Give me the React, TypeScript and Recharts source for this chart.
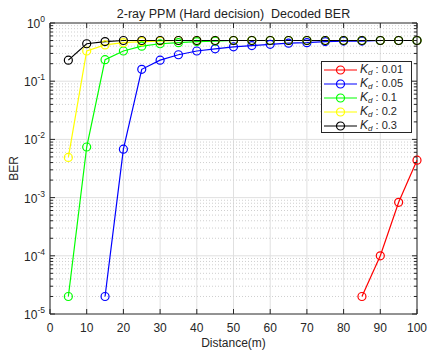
import React from 'react';
import { LineChart, Line, XAxis, YAxis, CartesianGrid, ReferenceLine, Legend } from 'recharts';

const distance = [5, 10, 15, 20, 25, 30, 35, 40, 45, 50, 55, 60, 65, 70, 75, 80, 85, 90, 95, 100];

const berKd001 = [null, null, null, null, null, null, null, null, null, null, null, null, null, null, null, null, 2e-5, 1.0e-4, 8.3e-4, 4.4e-3];
const berKd005 = [null, null, 2e-5, 0.0068, 0.16, 0.23, 0.285, 0.33, 0.36, 0.39, 0.41, 0.43, 0.45, 0.46, 0.48, 0.49, 0.49, 0.5, 0.5, 0.5];
const berKd01 = [2e-5, 0.0074, 0.234, 0.33, 0.40, 0.44, 0.46, 0.48, 0.49, 0.5, 0.5, 0.5, 0.5, 0.5, 0.5, 0.5, 0.5, 0.5, 0.5, 0.5];
const berKd02 = [0.0049, 0.33, 0.42, 0.46, 0.48, 0.49, 0.5, 0.5, 0.5, 0.5, 0.5, 0.5, 0.5, 0.5, 0.5, 0.5, 0.5, 0.5, 0.5, 0.5];
const berKd03 = [0.23, 0.44, 0.48, 0.5, 0.5, 0.5, 0.5, 0.5, 0.5, 0.5, 0.5, 0.5, 0.5, 0.5, 0.5, 0.5, 0.5, 0.5, 0.5, 0.5];

const seriesKeys = ['kd001', 'kd005', 'kd01', 'kd02', 'kd03'];
const seriesLabels = ['0.01', '0.05', '0.1', '0.2', '0.3'];
const seriesColors = ['#ff0000', '#0000ff', '#00ff00', '#ffff00', '#000000'];
const seriesValues = [berKd001, berKd005, berKd01, berKd02, berKd03];

const xTicks = [0, 10, 20, 30, 40, 50, 60, 70, 80, 90, 100];
const yDecades = [1e-5, 1e-4, 1e-3, 1e-2, 1e-1, 1];
const minorMultipliers = [2, 3, 4, 5, 6, 7, 8, 9];

const yMinors: number[] = [];
yDecades.slice(0, -1).forEach((d) => minorMultipliers.forEach((m) => yMinors.push(d * m)));
const yAllTicks = [...yDecades, ...yMinors].sort((a, b) => a - b);

const data = distance.map((d, i) => {
  const row: any = { distance: d };
  seriesKeys.forEach((k, j) => {
    row[k] = seriesValues[j][i];
  });
  return row;
});

const W = 428;
const H = 353;
const M = { top: 23, right: 11, bottom: 0, left: 0 };
const Y_AXIS_W = 50;
const X_AXIS_H = 39;
const PLOT_L = M.left + Y_AXIS_W;
const PLOT_R = W - M.right;
const PLOT_T = M.top;
const PLOT_B = H - X_AXIS_H;

const FONT = '"Liberation Sans", Arial, Helvetica, sans-serif';
const AX = '#262626';

const YTick = (props: any) => {
  const { x, y, payload } = props;
  const v = payload.value;
  const lg = Math.log10(v);
  const exp = Math.round(lg);
  const isMajor = Math.abs(lg - exp) < 1e-6;
  const len = isMajor ? 5 : 3;
  return (
    <g>
      <line x1={PLOT_L} x2={PLOT_L + len} y1={y} y2={y} stroke={AX} strokeWidth={1} />
      <line x1={PLOT_R - len} x2={PLOT_R} y1={y} y2={y} stroke={AX} strokeWidth={1} />
      {isMajor && (
        <text x={x} y={y + 5} textAnchor="end" fill={AX} fontSize={12} fontFamily={FONT}>
          10<tspan dy={-6} fontSize={8.5}>{exp}</tspan>
        </text>
      )}
    </g>
  );
};

const XTick = (props: any) => {
  const { x, payload } = props;
  return (
    <g>
      <line x1={x} x2={x} y1={PLOT_B} y2={PLOT_B - 5} stroke={AX} strokeWidth={1} />
      <line x1={x} x2={x} y1={PLOT_T} y2={PLOT_T + 5} stroke={AX} strokeWidth={1} />
      <text x={x} y={PLOT_B + 18} textAnchor="middle" fill={AX} fontSize={12} fontFamily={FONT}>
        {payload.value}
      </text>
    </g>
  );
};

const renderLegend = () => (
  <div
    style={{
      width: 91,
      height: 72,
      border: `1px solid ${AX}`,
      background: '#fff',
      boxSizing: 'border-box',
      position: 'relative',
      fontFamily: FONT,
    }}
  >
    {seriesLabels.map((n, i) => (
      <div
        key={n}
        style={{
          position: 'absolute',
          left: 0,
          top: 0.5 + i * 14.2,
          height: 14.2,
          width: '100%',
          display: 'flex',
          alignItems: 'center',
        }}
      >
        <svg width={37} height={14} style={{ display: 'block', flex: 'none' }}>
          <line x1={2} x2={35} y1={7} y2={7} stroke={seriesColors[i]} strokeWidth={1.2} />
          <circle cx={18.5} cy={7} r={4} fill="none" stroke={seriesColors[i]} strokeWidth={1.2} />
        </svg>
        <span style={{ fontSize: 11, marginLeft: 1, color: AX, whiteSpace: 'nowrap', lineHeight: '14px' }}>
          <i style={{ fontSize: 12 }}>K</i>
          <i style={{ fontSize: 8, position: 'relative', top: 2 }}>d</i>
          {' : ' + n}
        </span>
      </div>
    ))}
  </div>
);

const BerLabel = (props: any) => {
  const vb = props.viewBox || {};
  const cy = (vb.y || PLOT_T) + (vb.height || PLOT_B - PLOT_T) / 2;
  const cx = 13.5;
  return (
    <text
      x={cx}
      y={cy}
      transform={`rotate(-90, ${cx}, ${cy})`}
      textAnchor="middle"
      dominantBaseline="central"
      fill={AX}
      fontSize={12}
      fontFamily={FONT}
    >
      BER
    </text>
  );
};

const DistLabel = () => (
  <text x={(PLOT_L + PLOT_R) / 2} y={347} textAnchor="middle" fill={AX} fontSize={12} fontFamily={FONT}>
    Distance(m)
  </text>
);

export default function App() {
  return (
    <div style={{ position: 'absolute', left: 0, top: 0, width: W, height: H, background: '#fff' }}>
      <LineChart width={W} height={H} data={data} margin={M} style={{ fontFamily: FONT }}>
        <text
          x={(PLOT_L + PLOT_R) / 2}
          y={17.5}
          textAnchor="middle"
          fill="#222"
          fontSize={12.5}
          fontFamily={FONT}
          style={{ whiteSpace: 'pre' }}
        >
          {'2-ray PPM (Hard decision)  Decoded BER'}
        </text>
        <CartesianGrid horizontal={false} vertical={true} stroke="#e0e0e0" strokeWidth={1} />
        {yMinors.map((v) => (
          <ReferenceLine key={'m' + v} y={v} stroke="#cfcfcf" strokeDasharray="1 2" strokeWidth={1} />
        ))}
        {yDecades.slice(1, -1).map((v) => (
          <ReferenceLine key={'d' + v} y={v} stroke="#e0e0e0" strokeWidth={1} />
        ))}
        <ReferenceLine y={1} stroke={AX} strokeWidth={1} />
        <ReferenceLine x={100} stroke={AX} strokeWidth={1} />
        <XAxis
          dataKey="distance"
          type="number"
          domain={[0, 100]}
          ticks={xTicks}
          interval={0}
          height={X_AXIS_H}
          tickSize={0}
          tickMargin={0}
          tickLine={false}
          axisLine={{ stroke: AX }}
          tick={<XTick />}
          label={<DistLabel />}
        />
        <YAxis
          type="number"
          scale="log"
          domain={[1e-5, 1]}
          ticks={yAllTicks}
          interval={0}
          width={Y_AXIS_W}
          tickSize={0}
          tickMargin={5}
          tickLine={false}
          axisLine={{ stroke: AX }}
          tick={<YTick />}
          label={<BerLabel />}
        />
        {seriesKeys.map((k, i) => (
          <Line
            key={k}
            dataKey={k}
            stroke={seriesColors[i]}
            strokeWidth={1.2}
            dot={{ r: 4, fill: 'none', stroke: seriesColors[i], strokeWidth: 1.2, clipDot: false }}
            activeDot={false}
            isAnimationActive={false}
            connectNulls={false}
          />
        ))}
        <Legend
          layout="vertical"
          align="center"
          verticalAlign="middle"
          content={renderLegend}
          wrapperStyle={{ position: 'absolute', left: 321, top: 61, width: 91, height: 72 }}
        />
      </LineChart>
    </div>
  );
}
